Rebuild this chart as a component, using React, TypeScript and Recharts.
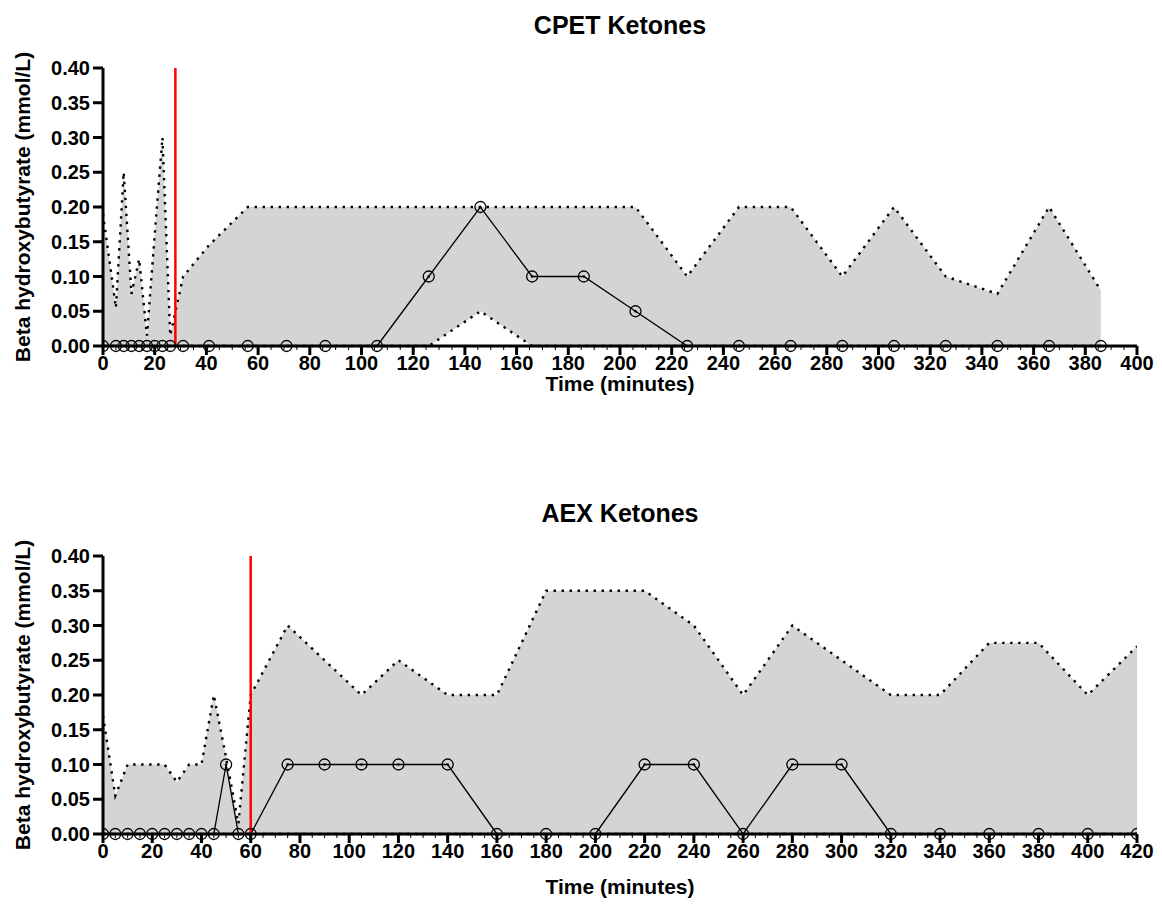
import React from 'react';
import { ComposedChart, Area, Line, XAxis, YAxis, ReferenceLine } from 'recharts';

// CPET session
const cpetTime = [0, 5, 8, 11, 14, 17, 20, 23, 26, 31, 41, 56, 71, 86, 106, 126, 146, 166, 186, 206, 226, 246, 266, 286, 306, 326, 346, 366, 386];
const cpetMean = [0, 0, 0, 0, 0, 0, 0, 0, 0, 0, 0, 0, 0, 0, 0, 0.1, 0.2, 0.1, 0.1, 0.05, 0, 0, 0, 0, 0, 0, 0, 0, 0];
const cpetUpper = [0.19, 0.055, 0.25, 0.075, 0.125, 0.015, 0.16, 0.3, 0.015, 0.1, 0.145, 0.2, 0.2, 0.2, 0.2, 0.2, 0.2, 0.2, 0.2, 0.2, 0.1, 0.2, 0.2, 0.1, 0.2, 0.1, 0.075, 0.2, 0.08];
const cpetLower = [0, 0, 0, 0, 0, 0, 0, 0, 0, 0, 0, 0, 0, 0, 0, 0, 0.05, 0, 0, 0, 0, 0, 0, 0, 0, 0, 0, 0, 0];
const cpetXTicks = [0, 20, 40, 60, 80, 100, 120, 140, 160, 180, 200, 220, 240, 260, 280, 300, 320, 340, 360, 380, 400];

// AEX session
const aexTime = [0, 5, 10, 15, 20, 25, 30, 35, 40, 45, 50, 55, 60, 75, 90, 105, 120, 140, 160, 180, 200, 220, 240, 260, 280, 300, 320, 340, 360, 380, 400, 420];
const aexMean = [0, 0, 0, 0, 0, 0, 0, 0, 0, 0, 0.1, 0, 0, 0.1, 0.1, 0.1, 0.1, 0.1, 0, 0, 0, 0.1, 0.1, 0, 0.1, 0.1, 0, 0, 0, 0, 0, 0];
const aexUpper = [0.17, 0.055, 0.1, 0.1, 0.1, 0.1, 0.075, 0.1, 0.1, 0.2, 0.11, 0.015, 0.2, 0.3, 0.25, 0.2, 0.25, 0.2, 0.2, 0.35, 0.35, 0.35, 0.3, 0.2, 0.3, 0.25, 0.2, 0.2, 0.275, 0.275, 0.2, 0.27];
const aexLower = [0, 0, 0, 0, 0, 0, 0, 0, 0, 0, 0, 0, 0, 0, 0, 0, 0, 0, 0, 0, 0, 0, 0, 0, 0, 0, 0, 0, 0, 0, 0, 0];
const aexXTicks = [0, 20, 40, 60, 80, 100, 120, 140, 160, 180, 200, 220, 240, 260, 280, 300, 320, 340, 360, 380, 400, 420];

const yTicks = [0, 0.05, 0.1, 0.15, 0.2, 0.25, 0.3, 0.35, 0.4];

const FONT = '"Liberation Sans", Arial, sans-serif';

const buildRows = (t: number[], mean: number[], upper: number[], lower: number[]) =>
  t.map((time, i) => ({ time, mean: mean[i], upper: upper[i], lower: lower[i] }));

// major ticks every 20 min with labels, minor ones in between
const withMinor = (majors: number[]) => {
  const out: number[] = [];
  for (let i = 0; i < majors.length - 1; i++) {
    const step = (majors[i + 1] - majors[i]) / 4;
    for (let k = 0; k < 4; k++) out.push(majors[i] + k * step);
  }
  out.push(majors[majors.length - 1]);
  return out;
};

const XTick = (props: any) => {
  const { x, y, payload } = props;
  const major = payload.value % 20 === 0;
  return (
    <g>
      <line x1={x} x2={x} y1={y} y2={y + (major ? 9 : 4)} stroke="#000" strokeWidth={major ? 3 : 1} />
      {major && (
        <text x={x} y={y + 10} dy="0.71em" textAnchor="middle" fill="#000"
          style={{ fontFamily: FONT, fontSize: 20, fontWeight: 700 }}>
          {payload.value}
        </text>
      )}
    </g>
  );
};

const RingDot = (props: any) => {
  const { cx, cy, index } = props;
  if (cx == null || cy == null) return <g key={index} />;
  return (
    <g key={index}>
      <circle cx={cx} cy={cy} r={5.5} fill="none" stroke="#000" strokeWidth={1.3} />
      <circle cx={cx} cy={cy} r={1.3} fill="#000" />
    </g>
  );
};

interface PanelProps {
  title: string;
  top: number;
  xLabelTop: number;
  rows: { time: number; mean: number; upper: number; lower: number }[];
  xTicks: number[];
  markerX: number;
}

const Panel: React.FC<PanelProps> = ({ title, top, xLabelTop, rows, xTicks, markerX }) => {
  const xMax = xTicks[xTicks.length - 1];
  return (
    <div style={{ position: 'absolute', left: 0, top, width: 1162, height: 406 }}>
      <div style={{ position: 'absolute', left: 103, width: 1034, top: 10, height: 30, lineHeight: '30px', textAlign: 'center', fontFamily: FONT, fontSize: 25, fontWeight: 700 }}>
        {title}
      </div>
      <div style={{ position: 'absolute', left: 23 - 200, top: 207 - 15, width: 400, height: 30, lineHeight: '30px', textAlign: 'center', fontFamily: FONT, fontSize: 21, fontWeight: 700, transform: 'rotate(-90deg)', whiteSpace: 'nowrap' }}>
        Beta hydroxybutyrate (mmol/L)
      </div>
      <div style={{ position: 'absolute', left: 103, width: 1034, top: xLabelTop, height: 24, lineHeight: '24px', textAlign: 'center', fontFamily: FONT, fontSize: 21, fontWeight: 700 }}>
        Time (minutes)
      </div>
      <div style={{ position: 'absolute', left: 0, top: 0 }}>
        <ComposedChart width={1162} height={406} data={rows} margin={{ top: 68, right: 25, left: 33, bottom: 0 }}>
          <XAxis
            dataKey="time"
            type="number"
            domain={[0, xMax]}
            ticks={withMinor(xTicks)}
            interval={0}
            allowDataOverflow
            axisLine={{ stroke: '#000', strokeWidth: 3 }}
            tickLine={false}
            tickSize={0}
            tickMargin={0}
            tick={<XTick />}
            height={60}
          />
          <YAxis
            type="number"
            domain={[0, 0.4]}
            ticks={yTicks}
            interval={0}
            width={70}
            axisLine={{ stroke: '#000', strokeWidth: 3 }}
            tickLine={{ stroke: '#000', strokeWidth: 3 }}
            tickSize={10}
            tickMargin={3}
            tickFormatter={(v: number) => v.toFixed(2)}
            tick={{ fill: '#000', fontSize: 20, fontWeight: 700, fontFamily: FONT }}
          />
          <Area
            dataKey={(d: any) => [d.lower, d.upper]}
            type="linear"
            stroke="none"
            fill="#d4d4d4"
            fillOpacity={1}
            isAnimationActive={false}
          />
          <Line dataKey="upper" type="linear" stroke="#000" strokeWidth={2.4} strokeDasharray="2.4 5.6" dot={false} isAnimationActive={false} />
          <Line dataKey="lower" type="linear" stroke="#000" strokeWidth={2.4} strokeDasharray="2.4 5.6" dot={false} isAnimationActive={false} />
          <Line dataKey="mean" type="linear" stroke="#000" strokeWidth={1.3} dot={<RingDot />} isAnimationActive={false} />
          <ReferenceLine x={markerX} stroke="#ff0000" strokeWidth={2.5} />
        </ComposedChart>
      </div>
    </div>
  );
};

export default function App() {
  return (
    <div style={{ position: 'absolute', left: 0, top: 0, width: 1162, height: 911, background: '#fff' }}>
      <Panel title="CPET Ketones" top={0} xLabelTop={372} rows={buildRows(cpetTime, cpetMean, cpetUpper, cpetLower)} xTicks={cpetXTicks} markerX={28} />
      <Panel title="AEX Ketones" top={488} xLabelTop={387} rows={buildRows(aexTime, aexMean, aexUpper, aexLower)} xTicks={aexXTicks} markerX={60} />
    </div>
  );
}
